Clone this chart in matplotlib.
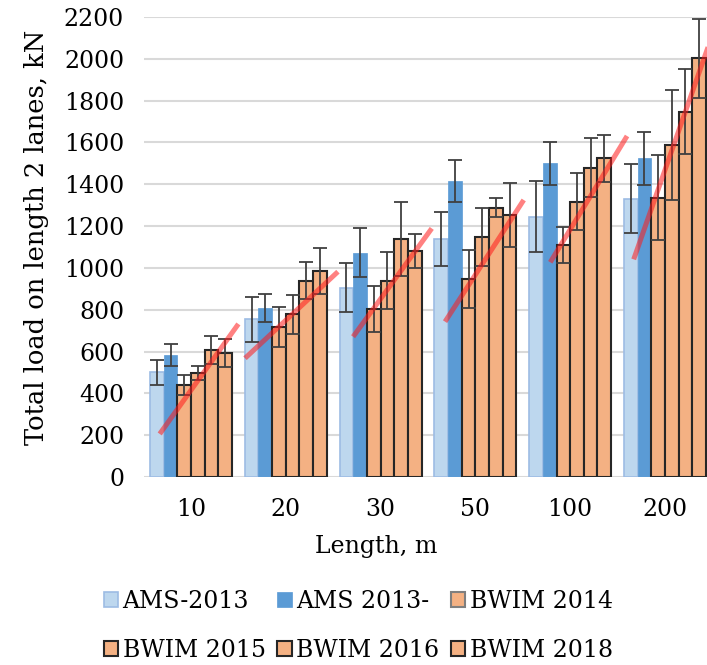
import numpy as np
from matplotlib import pyplot as plt

# span lengths (m) and mean total load on 2 lanes (kN) with spread
lengths = ['10', '20', '30', '50', '100', '200']

ams_2013 = [500, 755, 905, 1140, 1245, 1330]
ams_2013_err = [60, 108, 118, 129, 170, 165]
ams_2013b = [585, 807, 1073, 1416, 1500, 1524]
ams_2013b_err = [52, 68, 118, 101, 103, 128]
bwim_2014 = [440, 716, 803, 947, 1110, 1336]
bwim_2014_err = [47, 95, 110, 137, 86, 203]
bwim_2015 = [499, 778, 939, 1149, 1317, 1588]
bwim_2015_err = [34, 92, 136, 139, 135, 265]
bwim_2016 = [607, 939, 1137, 1288, 1479, 1747]
bwim_2016_err = [68, 90, 176, 45, 141, 203]
bwim_2018 = [592, 985, 1082, 1253, 1524, 2002]
bwim_2018_err = [68, 110, 80, 151, 112, 190]

# trend segments drawn over each group: (x0, y0, x1, y1), x in group index units
trend_x0 = [-0.33, 0.57, 1.71, 2.68, 3.79, 4.67]
trend_y0 = [206, 568, 671, 743, 1027, 1041]
trend_x1 = [0.50, 1.55, 2.54, 3.51, 4.60, 5.60]
trend_y1 = [732, 982, 1189, 1325, 1631, 2245]

plt.rcParams['font.family'] = 'DejaVu Serif'
plt.rcParams['font.size'] = 17

series = [
    ('AMS-2013', ams_2013, ams_2013_err, '#bdd7ee', '#9dbce4', 1.2),
    ('AMS 2013-', ams_2013b, ams_2013b_err, '#5b9bd5', '#5b9bd5', 0.5),
    ('BWIM 2014', bwim_2014, bwim_2014_err, '#f4b183', '#262626', 1.5),
    ('BWIM 2015', bwim_2015, bwim_2015_err, '#f4b183', '#262626', 1.5),
    ('BWIM 2016', bwim_2016, bwim_2016_err, '#f4b183', '#262626', 1.5),
    ('BWIM 2018', bwim_2018, bwim_2018_err, '#f4b183', '#262626', 1.5),
]

fig = plt.figure(figsize=(7.07, 6.65), dpi=100)
ax = fig.add_axes([0.2031, 0.2827, 0.8045, 0.6917])

x = np.arange(len(lengths))
w = 0.144
handles = []
for k, (name, vals, err, fc, ec, lw) in enumerate(series):
    pos = x + (k - 2.5) * w
    b = ax.bar(pos, vals, w, color=fc, edgecolor=ec, linewidth=lw, label=name, zorder=2)
    ax.errorbar(pos, vals, yerr=err, fmt='none', ecolor='#404040', elinewidth=1.3,
                capsize=5, capthick=1.3, zorder=3)
    handles.append(b)

for x0, y0, x1, y1 in zip(trend_x0, trend_y0, trend_x1, trend_y1):
    ax.plot([x0, x1], [y0, y1], color='#ff1a1a', alpha=0.55, linewidth=3.6,
            solid_capstyle='butt', zorder=4)

ax.set_xlim(-0.5, 5.5)
ax.set_ylim(0, 2200)
ax.set_yticks(np.arange(0, 2201, 200))
ax.set_xticks(x)
ax.set_xticklabels(lengths)
ax.grid(axis='y', color='#d9d9d9', linewidth=1.5, zorder=0)
ax.set_axisbelow(True)
for s in ax.spines.values():
    s.set_visible(False)
ax.tick_params(axis='x', length=0, pad=15)
ax.tick_params(axis='y', length=0, pad=14)

ax.set_xlabel('Length, m')
ax.xaxis.set_label_coords(0.409, -0.125)
ax.set_ylabel('Total load on length 2 lanes, kN', fontsize=18.5)
ax.yaxis.set_label_coords(-0.166, 0.52)

# legend is filled row by row, matplotlib fills columns, so reorder
order = [0, 3, 1, 4, 2, 5]
leg = fig.legend([handles[i] for i in order], [series[i][0] for i in order],
                 loc='center', bbox_to_anchor=(0.507, 0.059), ncol=3, frameon=False,
                 handlelength=0.6, handleheight=0.6, handletextpad=0.2,
                 columnspacing=0.5, labelspacing=1.1, borderpad=0)
leg.legend_handles[order.index(2)].set_edgecolor('#7f7f7f')

plt.savefig('out.png', dpi=100)
